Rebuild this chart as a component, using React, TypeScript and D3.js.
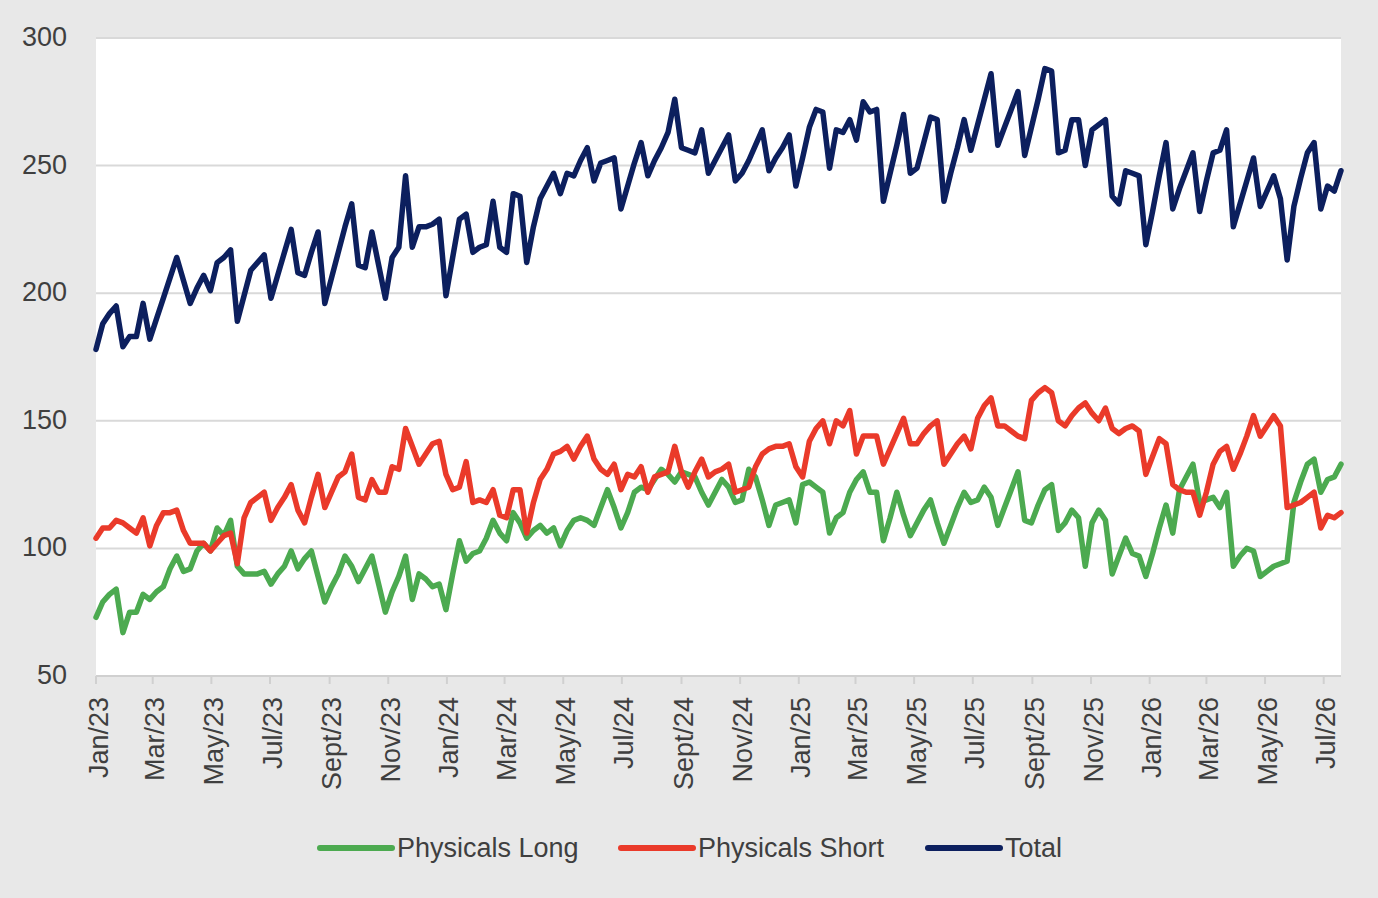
import * as d3 from 'd3';
import { useEffect, useRef } from 'react';

const WIDTH = 1378;
const HEIGHT = 898;

// weekly observations, first week starting Jan 1 2023
const startDate = new Date(2023, 0, 1);

const tickLabels = [
  'Jan/23', 'Mar/23', 'May/23', 'Jul/23', 'Sept/23', 'Nov/23',
  'Jan/24', 'Mar/24', 'May/24', 'Jul/24', 'Sept/24', 'Nov/24',
  'Jan/25', 'Mar/25', 'May/25', 'Jul/25', 'Sept/25', 'Nov/25',
  'Jan/26', 'Mar/26', 'May/26', 'Jul/26',
];

const yTicks = [50, 100, 150, 200, 250, 300];

const physicalsLong = [
  73, 79, 82, 84, 67, 75, 75, 82, 80, 83,
  85, 92, 97, 91, 92, 99, 102, 99, 108, 105,
  111, 93, 90, 90, 90, 91, 86, 90, 93, 99,
  92, 96, 99, 89, 79, 85, 90, 97, 93, 87,
  92, 97, 86, 75, 83, 89, 97, 80, 90, 88,
  85, 86, 76, 90, 103, 95, 98, 99, 104, 111,
  106, 103, 114, 110, 104, 107, 109, 106, 108, 101,
  107, 111, 112, 111, 109, 116, 123, 116, 108, 114,
  122, 124, 123, 127, 131, 129, 126, 130, 129, 128,
  122, 117, 122, 127, 124, 118, 119, 131, 128, 119,
  109, 117, 118, 119, 110, 125, 126, 124, 122, 106,
  112, 114, 122, 127, 130, 122, 122, 103, 112, 122,
  113, 105, 110, 115, 119, 110, 102, 109, 116, 122,
  118, 119, 124, 120, 109, 116, 123, 130, 111, 110,
  117, 123, 125, 107, 110, 115, 112, 93, 110, 115,
  111, 90, 97, 104, 98, 97, 89, 98, 108, 117,
  106, 123, 128, 133, 118, 119, 120, 116, 122, 93,
  97, 100, 99, 89, 91, 93, 94, 95, 118, 126,
  133, 135, 122, 127, 128, 133,
];

const physicalsShort = [
  104, 108, 108, 111, 110, 108, 106, 112, 101, 109,
  114, 114, 115, 107, 102, 102, 102, 99, 102, 105,
  106, 94, 112, 118, 120, 122, 111, 116, 120, 125,
  115, 110, 120, 129, 116, 122, 128, 130, 137, 120,
  119, 127, 122, 122, 132, 131, 147, 140, 133, 137,
  141, 142, 129, 123, 124, 134, 118, 119, 118, 123,
  113, 112, 123, 123, 106, 118, 127, 131, 137, 138,
  140, 135, 140, 144, 135, 131, 129, 133, 123, 129,
  128, 132, 122, 128, 129, 130, 140, 130, 124, 130,
  135, 128, 130, 131, 133, 122, 123, 124, 132, 137,
  139, 140, 140, 141, 132, 128, 142, 147, 150, 141,
  150, 148, 154, 137, 144, 144, 144, 133, 139, 145,
  151, 141, 141, 145, 148, 150, 133, 137, 141, 144,
  139, 151, 156, 159, 148, 148, 146, 144, 143, 158,
  161, 163, 161, 150, 148, 152, 155, 157, 153, 150,
  155, 147, 145, 147, 148, 146, 129, 136, 143, 141,
  125, 123, 122, 122, 113, 122, 133, 138, 140, 131,
  137, 144, 152, 144, 148, 152, 148, 116, 117, 118,
  120, 122, 108, 113, 112, 114,
];

const total = [
  178, 188, 192, 195, 179, 183, 183, 196, 182, 190,
  198, 206, 214, 205, 196, 202, 207, 201, 212, 214,
  217, 189, 199, 209, 212, 215, 198, 207, 216, 225,
  208, 207, 216, 224, 196, 206, 216, 226, 235, 211,
  210, 224, 211, 198, 214, 218, 246, 218, 226, 226,
  227, 229, 199, 214, 229, 231, 216, 218, 219, 236,
  218, 216, 239, 238, 212, 226, 237, 242, 247, 239,
  247, 246, 252, 257, 244, 251, 252, 253, 233, 242,
  251, 259, 246, 252, 257, 263, 276, 257, 256, 255,
  264, 247, 252, 257, 262, 244, 247, 252, 258, 264,
  248, 253, 257, 262, 242, 253, 265, 272, 271, 249,
  264, 263, 268, 260, 275, 271, 272, 236, 247, 258,
  270, 247, 249, 259, 269, 268, 236, 247, 257, 268,
  256, 266, 276, 286, 258, 265, 272, 279, 254, 265,
  276, 288, 287, 255, 256, 268, 268, 250, 264, 266,
  268, 238, 235, 248, 247, 246, 219, 232, 246, 259,
  233, 241, 248, 255, 232, 244, 255, 256, 264, 226,
  235, 244, 253, 234, 240, 246, 237, 213, 234, 245,
  255, 259, 233, 242, 240, 248,
];

const seriesNames = ['Physicals Long', 'Physicals Short', 'Total'];
const seriesColors = ['#4caa50', '#ea3a2a', '#0c1f5e'];

// plot box
const M = { left: 96, right: 1341, top: 38, bottom: 676 };
const TEXT = '#3f3f3f';
const FONT = "'Liberation Sans', Arial, sans-serif";

// legend layout
const legendX = [320, 621, 928];
const legendY = 848;
const legendLine = 72;

export default function App() {
  const ref = useRef<SVGSVGElement>(null);

  useEffect(() => {
    if (!ref.current) return;
    const svg = d3.select(ref.current);
    svg.selectAll('*').remove();

    const dates = d3.range(total.length).map(i => d3.timeDay.offset(startDate, i * 7));
    const x = d3.scaleTime()
      .domain([dates[0], dates[dates.length - 1]])
      .range([M.left, M.right]);
    const y = d3.scaleLinear()
      .domain([50, 300])
      .range([M.bottom, M.top]);

    svg.append('rect')
      .attr('width', WIDTH)
      .attr('height', HEIGHT)
      .attr('fill', '#e8e8e8');

    svg.append('rect')
      .attr('x', M.left)
      .attr('y', M.top)
      .attr('width', M.right - M.left)
      .attr('height', M.bottom - M.top)
      .attr('fill', '#ffffff');

    // gridlines
    svg.append('g')
      .selectAll('line')
      .data(yTicks.slice(1))
      .join('line')
      .attr('x1', M.left)
      .attr('x2', M.right)
      .attr('y1', d => y(d))
      .attr('y2', d => y(d))
      .attr('stroke', '#d9d9d9')
      .attr('stroke-width', 2);

    // y labels
    svg.append('g')
      .selectAll('text')
      .data(yTicks)
      .join('text')
      .attr('x', 67)
      .attr('y', d => y(d) - 1)
      .attr('text-anchor', 'end')
      .attr('dominant-baseline', 'central')
      .attr('font-family', FONT)
      .attr('font-size', 27)
      .attr('fill', TEXT)
      .text(d => d);

    // x axis
    const tickDates = d3.timeMonth.every(2)!.range(startDate, dates[dates.length - 1]);
    svg.append('line')
      .attr('x1', M.left)
      .attr('x2', M.right)
      .attr('y1', M.bottom)
      .attr('y2', M.bottom)
      .attr('stroke', '#d0d0d0')
      .attr('stroke-width', 2);

    svg.append('g')
      .selectAll('line')
      .data(tickDates)
      .join('line')
      .attr('x1', d => x(d))
      .attr('x2', d => x(d))
      .attr('y1', M.bottom)
      .attr('y2', M.bottom + 8)
      .attr('stroke', '#d0d0d0')
      .attr('stroke-width', 2);

    svg.append('g')
      .selectAll('text')
      .data(tickDates)
      .join('text')
      .attr('transform', d => `translate(${x(d) + 2.5},697) rotate(-90)`)
      .attr('text-anchor', 'end')
      .attr('dominant-baseline', 'central')
      .attr('font-family', FONT)
      .attr('font-size', 27)
      .attr('fill', TEXT)
      .text((_, i) => tickLabels[i]);

    // lines
    const line = d3.line<number>()
      .x((_, i) => x(dates[i]))
      .y(d => y(d));

    [physicalsLong, physicalsShort, total].forEach((values, k) => {
      svg.append('path')
        .datum(values)
        .attr('fill', 'none')
        .attr('stroke', seriesColors[k])
        .attr('stroke-width', 5.5)
        .attr('stroke-linejoin', 'round')
        .attr('stroke-linecap', 'round')
        .attr('d', line);
    });

    // legend
    const legend = svg.append('g');
    seriesNames.forEach((name, k) => {
      legend.append('line')
        .attr('x1', legendX[k])
        .attr('x2', legendX[k] + legendLine)
        .attr('y1', legendY)
        .attr('y2', legendY)
        .attr('stroke', seriesColors[k])
        .attr('stroke-width', 6)
        .attr('stroke-linecap', 'round');
      legend.append('text')
        .attr('x', legendX[k] + legendLine + 5)
        .attr('y', legendY)
        .attr('dominant-baseline', 'central')
        .attr('font-family', FONT)
        .attr('font-size', 27)
        .attr('fill', TEXT)
        .text(name);
    });
  }, []);

  return (
    <svg
      ref={ref}
      width={WIDTH}
      height={HEIGHT}
      viewBox={`0 0 ${WIDTH} ${HEIGHT}`}
      style={{ position: 'absolute', left: 0, top: 0, display: 'block' }}
    />
  );
}
